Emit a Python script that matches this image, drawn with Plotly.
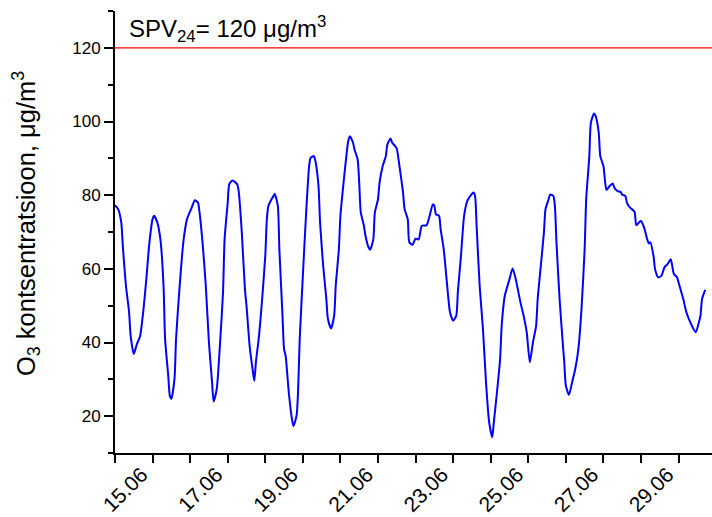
import plotly.graph_objects as go

# Hourly ozone readings: hours elapsed since 14.06 00:00 and concentration (µg/m³)
hours = [
    0, 2, 4, 5, 7, 9, 10, 12, 14, 16, 18, 20, 22, 24, 25, 27, 29, 31, 32, 34,
    35, 36, 38, 39, 41, 43, 44, 46, 49, 51, 53, 54, 56, 58, 60, 62, 63, 65, 67, 69,
    70, 72, 73, 75, 78, 79, 81, 83, 84, 86, 88, 89, 90, 92, 94, 96, 97, 98, 100, 101,
    102, 104, 105, 107, 108, 109, 111, 113, 114, 116, 117, 118, 120, 122, 124, 125, 127, 128, 130, 131,
    133, 135, 136, 138, 140, 141, 143, 144, 146, 148, 149, 150, 152, 153, 155, 156, 157, 159, 160, 162,
    163, 165, 166, 168, 169, 171, 173, 174, 176, 177, 179, 180, 182, 184, 185, 187, 188, 190, 192, 194,
    196, 199, 201, 203, 204, 205, 207, 208, 210, 212, 214, 216, 218, 219, 221, 223, 225, 227, 229, 230,
    231, 233, 235, 237, 239, 241, 242, 244, 246, 247, 249, 252, 254, 256, 259, 261, 263, 265, 267, 269,
    270, 272, 274, 275, 277, 278, 280, 281, 282, 284, 286, 287, 288, 290, 292, 294, 296, 298, 300, 301,
    303, 304, 306, 307, 309, 310, 312, 313, 314, 316, 318, 319, 321, 323, 324, 326, 327, 329, 331, 332,
    333, 335, 336, 338, 340, 341, 342, 344, 345, 347, 349, 351, 353, 355, 357, 359, 360, 363, 365, 368,
    371, 373, 374, 375, 377,
]
ozone = [
    77.3, 76.2, 72.6, 66.2, 55.4, 48.2, 41.8, 36.9, 39.6, 41.7, 48.2, 57.2, 67.2, 73.5, 74.4, 72.6, 68.0, 55.4, 41.0, 31.0,
    25.6, 24.7, 30.1, 41.0, 53.6, 64.4, 68.5, 73.5, 76.6, 78.6, 78.0, 75.3, 66.7, 55.4, 40.0, 29.2, 24.0, 27.4, 39.1, 53.6,
    68.0, 78.0, 83.0, 84.0, 83.0, 81.1, 69.9, 54.5, 50.0, 39.1, 32.4, 29.6, 34.6, 41.8, 51.8, 63.5, 73.5, 77.1, 78.9, 79.6,
    80.4, 77.1, 65.3, 47.3, 38.2, 36.4, 26.5, 19.3, 17.3, 20.2, 27.4, 41.0, 58.1, 74.4, 87.9, 90.2, 90.6, 89.3, 82.5, 72.6,
    60.8, 51.8, 46.4, 43.8, 47.3, 55.4, 65.3, 74.4, 83.4, 91.5, 94.7, 96.0, 94.3, 92.4, 89.7, 83.4, 75.3, 71.7, 69.0, 65.8,
    65.2, 68.0, 75.3, 78.9, 83.4, 87.9, 90.6, 93.8, 95.4, 94.3, 93.3, 92.6, 87.0, 80.7, 76.2, 73.5, 67.2, 66.5, 68.2, 68.0,
    71.7, 71.8, 74.4, 77.5, 77.1, 74.8, 74.4, 70.8, 65.3, 56.3, 48.2, 45.9, 47.3, 53.6, 63.5, 74.4, 78.4, 79.8, 80.7, 79.8,
    71.7, 55.0, 44.0, 29.2, 18.4, 14.3, 18.4, 26.5, 35.5, 44.5, 52.7, 57.2, 60.1, 57.2, 50.9, 47.3, 42.8, 34.6, 40.1, 44.5,
    51.8, 60.8, 69.9, 76.2, 78.9, 80.2, 79.8, 77.1, 67.2, 51.8, 40.0, 34.6, 28.3, 25.8, 29.2, 32.8, 38.2, 49.1, 65.3, 78.9,
    90.6, 99.7, 102.2, 101.5, 97.0, 90.6, 87.9, 83.9, 81.4, 82.5, 83.2, 82.0, 81.1, 80.9, 80.1, 79.8, 78.0, 76.6, 75.9, 75.3,
    71.8, 72.7, 73.0, 71.2, 68.0, 66.9, 67.2, 63.5, 59.9, 57.7, 58.1, 60.4, 61.3, 62.6, 58.6, 57.7, 56.3, 51.8, 48.2, 45.0,
    42.8, 45.5, 47.3, 51.8, 54.3,
]

# Day-of-month ticks on the time axis
tick_days = [15, 17, 19, 21, 23, 25, 27, 29]
tick_labels = ["15.06", "17.06", "19.06", "21.06", "23.06", "25.06", "27.06", "29.06"]

# 24-hour limit value
SPV_LIMIT = 120

START_DAY = 14
days = [START_DAY + h / 24 for h in hours]

FONT = "Arial, Liberation Sans, sans-serif"

fig = go.Figure()
fig.add_trace(go.Scatter(
    x=days, y=ozone, mode="lines",
    line=dict(color="#0000ff", width=2, shape="spline", smoothing=0.6),
    showlegend=False, hoverinfo="skip",
))

fig.add_shape(type="line", xref="paper", x0=0, x1=1, yref="y", y0=SPV_LIMIT, y1=SPV_LIMIT,
              line=dict(color="#ff0000", width=1.3))

fig.add_annotation(
    text="SPV<sub>24</sub>= 120 μg/m<sup>3</sup>",
    xref="paper", yref="paper", x=0.02, y=0.959,
    xanchor="left", yanchor="middle", showarrow=False,
    font=dict(family=FONT, size=24, color="black"),
)

fig.add_annotation(
    text="O<sub>3</sub> kontsentratsioon, μg/m<sup>3</sup>",
    xref="paper", yref="paper", x=-0.149, y=0.518,
    xanchor="center", yanchor="middle", textangle=-90, showarrow=False,
    font=dict(family=FONT, size=25.5, color="black"),
)

fig.update_xaxes(
    range=[START_DAY, 29.89], automargin=False,
    tickmode="array", tickvals=tick_days, ticktext=tick_labels,
    tickangle=-45, tickfont=dict(family=FONT, size=21, color="black"),
    ticklabelshift=-11, ticklabelstandoff=-9,
    ticks="outside", ticklen=8, tickwidth=2, tickcolor="black",
    minor=dict(tickmode="linear", tick0=START_DAY, dtick=1, ticks="outside",
               ticklen=8, tickwidth=2, tickcolor="black", showgrid=False),
    showline=True, linewidth=2, linecolor="black",
    showgrid=False, zeroline=False,
)
fig.update_yaxes(
    range=[10, 130], automargin=False,
    tickmode="linear", tick0=20, dtick=20,
    tickfont=dict(family=FONT, size=17, color="black"),
    ticks="outside", ticklen=9, tickwidth=2, tickcolor="black",
    minor=dict(tickmode="linear", tick0=10, dtick=10, ticks="outside",
               ticklen=5, tickwidth=2, tickcolor="black", showgrid=False),
    showline=True, linewidth=2, linecolor="black",
    showgrid=False, zeroline=False,
)

fig.update_layout(
    width=712, height=517,
    margin=dict(l=115, r=0, t=11, b=64),
    paper_bgcolor="white", plot_bgcolor="white",
    font=dict(family=FONT, color="black"),
)

fig.write_html("out.html")
